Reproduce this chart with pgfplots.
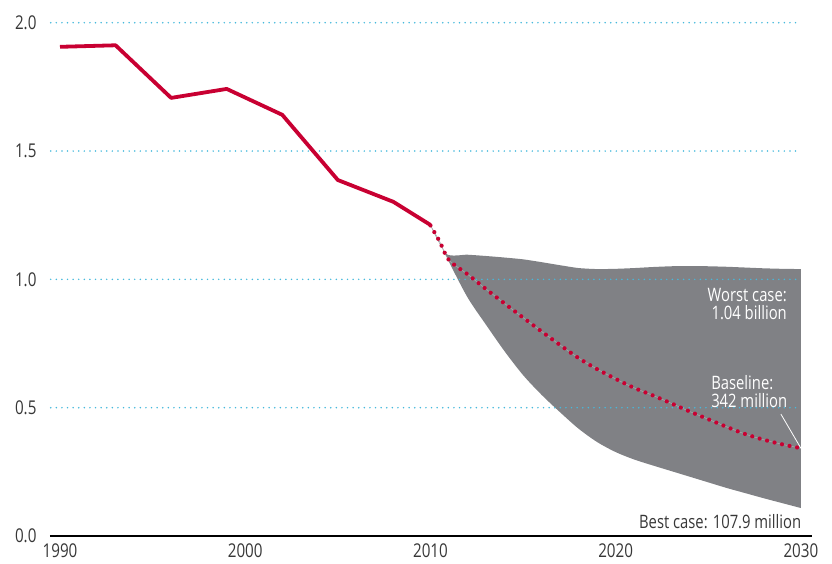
\documentclass[border=0pt]{standalone}
\usepackage{fontspec}
\setmainfont{Open Sans}[FakeStretch=0.8]
\usepackage{pgfplots}
\usepgfplotslibrary{fillbetween}
\pgfplotsset{compat=1.18}
\definecolor{cred}{RGB}{200,0,50}
\definecolor{cgray}{RGB}{128,129,133}
\definecolor{cgrid}{RGB}{70,185,220}
\definecolor{ctext}{RGB}{55,55,55}
\begin{document}
\begin{tikzpicture}
\begin{axis}[
  scale only axis,
  width=762pt, height=513.3pt,
  xmin=1989.46, xmax=2030.6,
  ymin=0, ymax=2,
  clip=false,
  axis x line*=bottom, axis y line*=left,
  x axis line style={black, line width=1.4pt, -},
  y axis line style={draw=none},
  major tick length=0pt,
  xtick={1990,2000,2010,2020,2030},
  ytick={0,0.5,1,1.5,2},
  xticklabel={\pgfmathprintnumber[1000 sep={}]{\tick}},
  yticklabel={\pgfmathprintnumber[fixed, fixed zerofill, precision=1]{\tick}},
  /pgf/number format/assume math mode=true,
  ticklabel style={font=\fontsize{19}{20}\selectfont, text=ctext},
  yticklabel style={anchor=east, xshift=-10pt},
  xticklabel style={anchor=north, yshift=-4pt},
]
\coordinate (sw) at (rel axis cs:0,0);
% grid lines
\foreach \gy in {0.5,1,1.5,2}{
  \edef\tmp{\noexpand\draw[cgrid, line width=1.7pt, dash pattern=on 0pt off 5.6pt, line cap=round]
    (axis cs:1989.5,\gy) -- (axis cs:2029.9,\gy);}\tmp
}
% uncertainty area
\addplot[name path=up, draw=none, smooth, tension=0.4] coordinates {
 (2010,1.21) (2010.85,1.099) (2012,1.096) (2013,1.091) (2014,1.085) (2015,1.078)
 (2016,1.067) (2017,1.055) (2018,1.044) (2019,1.040) (2020,1.041) (2021,1.044)
 (2022,1.048) (2023,1.051) (2024,1.052) (2025,1.051) (2026,1.049) (2027,1.046)
 (2028,1.043) (2029,1.041) (2030,1.040)
};
\addplot[name path=lo, draw=none, smooth, tension=0.5] coordinates {
 (2010,1.21) (2010.85,1.092) (2011,1.068) (2012,0.93) (2013,0.823) (2014,0.72)
 (2015,0.627) (2016,0.55) (2017,0.482) (2018,0.418) (2019,0.366) (2020,0.327)
 (2021,0.298) (2022,0.275) (2023,0.253) (2024,0.231) (2025,0.209) (2026,0.187)
 (2027,0.167) (2028,0.147) (2029,0.128) (2030,0.109)
};
\addplot[cgray, draw=none] fill between[of=up and lo];
% baseline projection
\addplot[color={rgb,255:red,165;green,165;blue,168}, line width=0.6pt, smooth] coordinates {
 (2010,1.21) (2010.5,1.147) (2011,1.075) (2012,1.02) (2013,0.962) (2014,0.906) (2015,0.851)
 (2016,0.797) (2017,0.744) (2018,0.693) (2019,0.650) (2020,0.612) (2021,0.577)
 (2022,0.548) (2023,0.517) (2024,0.485) (2025,0.455) (2026,0.425) (2027,0.397)
 (2028,0.375) (2029,0.357) (2030,0.342)
};
\addplot[cred, line width=4.2pt, line cap=round, dash pattern=on 0pt off 7.7pt, smooth] coordinates {
 (2010,1.21) (2010.5,1.147) (2011,1.075) (2012,1.02) (2013,0.962) (2014,0.906) (2015,0.851)
 (2016,0.797) (2017,0.744) (2018,0.693) (2019,0.650) (2020,0.612) (2021,0.577)
 (2022,0.548) (2023,0.517) (2024,0.485) (2025,0.455) (2026,0.425) (2027,0.397)
 (2028,0.375) (2029,0.357) (2030,0.342)
};
% historical
\addplot[cred, line width=3.8pt, line join=round] coordinates {
 (1990,1.906) (1993,1.912) (1996,1.707) (1999,1.742) (2002,1.641)
 (2005,1.387) (2008,1.302) (2010,1.212)
};
% annotations
\node[anchor=east, align=right, text=white, font=\fontsize{18.5}{18}\selectfont, inner sep=0pt]
  at (axis cs:2029.25,0.905) {Worst case:\\1.04 billion};
\node[anchor=west, align=left, text=white, font=\fontsize{18.5}{18}\selectfont, inner sep=0pt]
  at (axis cs:2025.15,0.563) {Baseline:\\342 million};
\draw[white, line width=0.8pt] (axis cs:2028.92,0.475) -- (axis cs:2030,0.342);
\node[anchor=east, text=ctext, font=\fontsize{18.5}{18}\selectfont, inner sep=0pt]
  at (axis cs:2030.03,0.058) {Best case: 107.9 million};
\end{axis}
\path (sw) ++(-50pt,-27pt) rectangle ++(832pt,563pt);
\end{tikzpicture}
\end{document}
